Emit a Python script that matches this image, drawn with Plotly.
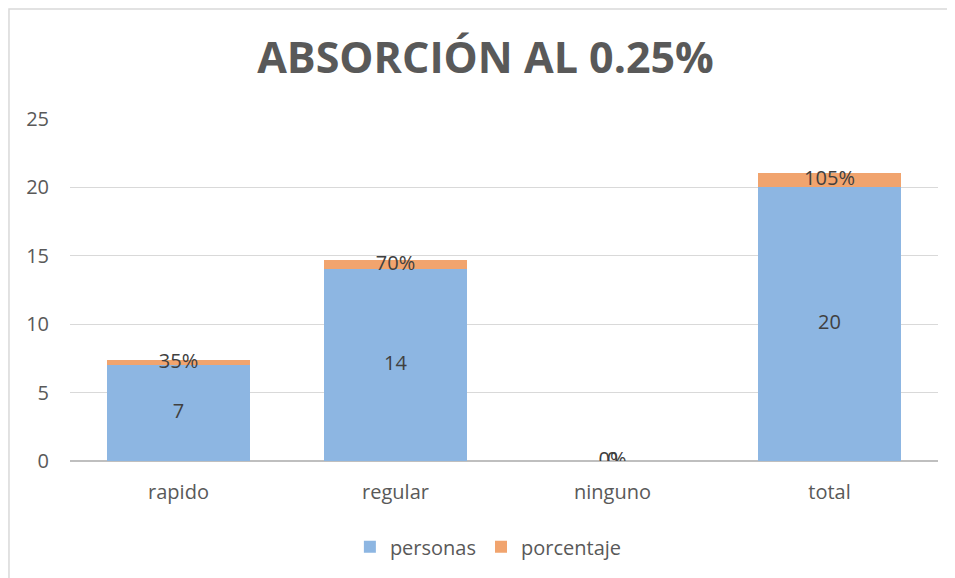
import plotly.graph_objects as go

categorias = ["rapido", "regular", "ninguno", "total"]
personas = [7, 14, 0, 20]
porcentaje = [0.35, 0.70, 0.0, 1.05]
etiquetas_pct = ["35%", "70%", "0%", "105%"]
etiquetas_per = ["7", "14", "0", "20"]

azul = "#8db6e2"
naranja = "#f1a46e"
gris = "#595959"
fuente = "Open Sans, Liberation Sans, sans-serif"

fig = go.Figure()
fig.add_trace(go.Bar(x=categorias, y=personas, name="personas", marker_color=azul,
                     marker_line_width=0, hoverinfo="skip"))
fig.add_trace(go.Bar(x=categorias, y=porcentaje, name="porcentaje", marker_color=naranja,
                     marker_line_width=0, hoverinfo="skip"))

# etiquetas de datos, centradas en cada segmento
fig.add_trace(go.Scatter(x=categorias, y=[p / 2 for p in personas], text=etiquetas_per,
                         mode="text", textfont=dict(size=20, color="#404040", family=fuente),
                         showlegend=False, hoverinfo="skip"))
fig.add_trace(go.Scatter(x=categorias, y=[a + b / 2 for a, b in zip(personas, porcentaje)],
                         text=etiquetas_pct, mode="text",
                         textfont=dict(size=20, color="#404040", family=fuente),
                         showlegend=False, hoverinfo="skip"))

fig.update_layout(
    barmode="stack",
    bargap=0.34,
    width=955, height=578,
    margin=dict(l=62, r=25, t=111, b=125),
    paper_bgcolor="white", plot_bgcolor="white",
    font=dict(family=fuente, color=gris, size=20),
    title=dict(text="<b>ABSORCIÓN AL 0.25%</b>", x=0.5, xanchor="center", y=0.913, yanchor="middle",
               font=dict(size=43, color=gris, family=fuente)),
    xaxis=dict(showgrid=False, showline=False, ticks="", tickfont=dict(size=20, color=gris),
               ticklabelstandoff=17),
    yaxis=dict(range=[0, 25], dtick=5, showgrid=True, gridcolor="#d9d9d9", gridwidth=1,
               zeroline=True, zerolinecolor="#bfbfbf", zerolinewidth=1.5,
               ticks="", tickfont=dict(size=20, color=gris), ticklabelstandoff=20),
    legend=dict(orientation="h", x=0.482, xanchor="center", y=-0.251, yanchor="middle",
                traceorder="normal", font=dict(size=20, color=gris), itemwidth=30),
    shapes=[dict(type="rect", xref="paper", yref="paper", x0=-0.0703, x1=1.1, y0=-0.5, y1=1.3216,
                 line=dict(color="#d9d9d9", width=1.5), fillcolor="rgba(0,0,0,0)", layer="below")],
)

fig.write_html("out.html")
